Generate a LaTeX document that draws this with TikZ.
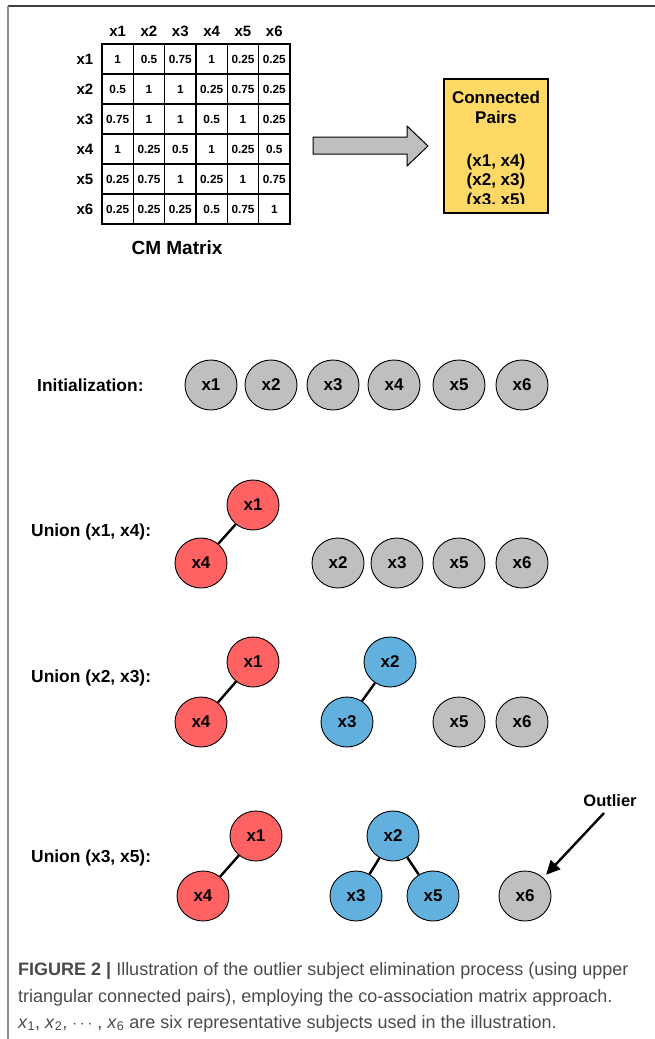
\documentclass[tikz,border=0pt]{standalone}
\usepackage{fontspec}
\setmainfont{Liberation Sans}
\usetikzlibrary{shapes.geometric,arrows.meta,calc}
\definecolor{cgray}{HTML}{BFBFBF}
\definecolor{cred}{HTML}{FF6262}
\definecolor{cblue}{HTML}{62B0DE}
\definecolor{cyel}{HTML}{FFD966}
\definecolor{captxt}{HTML}{4A4A4A}
\begin{document}
\begin{tikzpicture}[x=1pt,y=-1pt,
  cell/.style={draw,line width=1.2pt,minimum width=31.33pt,minimum height=30pt,inner sep=0pt,font=\bfseries\fontsize{11.8}{13}\selectfont},
  hdr/.style={font=\bfseries\fontsize{15}{17}\selectfont,inner sep=0pt},
  ball/.style={ellipse,draw,line width=0.9pt,minimum width=52pt,minimum height=50pt,inner sep=0pt,font=\bfseries\fontsize{17}{19}\selectfont},
  gb/.style={ball,fill=cgray},
  rb/.style={ball,fill=cred},
  bb/.style={ball,fill=cblue},
  lbl/.style={anchor=west,inner sep=0pt,font=\bfseries\fontsize{17.4}{19}\selectfont},
  link/.style={line width=2.4pt},
  cpt/.style={anchor=base,inner sep=0pt,font=\bfseries\fontsize{17}{19}\selectfont},
  capl/.style={anchor=base west,inner sep=0pt,text=captxt,font=\fontsize{18}{21}\selectfont}]
\useasboundingbox (0,0) rectangle (655,1039);
% frame
\draw[line width=1.6pt,black!75] (655,6) -- (8,6);
\draw[line width=1.6pt,black!45] (8,6) -- (8,1039);
% matrix
\foreach [count=\c] \h in {x1,x2,x3,x4,x5,x6} {
  \node[hdr] (col\c) at ({102+31.33*(\c-0.5)},31) {\h};
  \node[hdr] (row\c) at (85,{44+30*(\c-0.5)}) {\h};
}
\foreach [count=\r] \rw in {{1,0.5,0.75,1,0.25,0.25},{0.5,1,1,0.25,0.75,0.25},{0.75,1,1,0.5,1,0.25},{1,0.25,0.5,1,0.25,0.5},{0.25,0.75,1,0.25,1,0.75},{0.25,0.25,0.25,0.5,0.75,1}} {
  \foreach [count=\c] \v in \rw {
    \node[cell] (m\r\c) at ({102+31.33*(\c-0.5)},{44+30*(\r-0.5)}) {\v};
  }
}
\node[font=\bfseries\fontsize{19}{21}\selectfont,inner sep=0pt] (cmlabel) at (177,248) {CM Matrix};
% big arrow
\draw[line width=1pt,fill=cgray] (313,137) -- (407,137) -- (407,126) -- (428,146) -- (407,166) -- (407,154) -- (313,154) -- cycle;
% connected pairs box
\node[draw,line width=1.2pt,fill=cyel,minimum width=104pt,minimum height=134pt,inner sep=0pt] (cp) at (496,146) {};
\begin{scope}
\clip (444,79) rectangle (548,203.5);
\node[cpt] (cp1) at (496,103) {Connected};
\node[cpt] (cp2) at (496,123) {Pairs};
\node[cpt] (cp3) at (496,166) {(x1, x4)};
\node[cpt] (cp4) at (496,185.5) {(x2, x3)};
\node[cpt] (cp5) at (496,205) {(x3, x5)};
\end{scope}
% initialization
\node[lbl] (linit) at (37,385) {Initialization:};
\node[gb] (i1) at (211,385) {x1};
\node[gb] (i2) at (271,385) {x2};
\node[gb] (i3) at (333,385) {x3};
\node[gb] (i4) at (394,385) {x4};
\node[gb] (i5) at (459,385) {x5};
\node[gb] (i6) at (522,385) {x6};
% union 1
\node[lbl] (lu1) at (31,532) {Union (x1, x4):};
\node[rb] (a1) at (253,505) {x1};
\node[rb] (a4) at (201,563) {x4};
\node[gb] (a2) at (338,563) {x2};
\node[gb] (a3) at (397,563) {x3};
\node[gb] (a5) at (459,563) {x5};
\node[gb] (a6) at (522,563) {x6};
\draw[link] (a1) -- (a4);
% union 2
\node[lbl] (lu2) at (31,678) {Union (x2, x3):};
\node[rb] (b1) at (253,662) {x1};
\node[rb] (b4) at (201,722) {x4};
\node[bb] (b2) at (390,662) {x2};
\node[bb] (b3) at (347,722) {x3};
\node[gb] (b5) at (459,722) {x5};
\node[gb] (b6) at (522,722) {x6};
\draw[link] (b1) -- (b4);
\draw[link] (b2) -- (b3);
% union 3
\node[lbl] (lu3) at (31,858) {Union (x3, x5):};
\node[rb] (c1) at (256,836) {x1};
\node[rb] (c4) at (203,896) {x4};
\node[bb] (c2) at (393,836) {x2};
\node[bb] (c3) at (356,896) {x3};
\node[bb] (c5) at (433,896) {x5};
\node[gb] (c6) at (525,896) {x6};
\draw[link] (c1) -- (c4);
\draw[link] (c2) -- (c3);
\draw[link] (c2) -- (c5);
\node[font=\bfseries\fontsize{16.5}{18}\selectfont,inner sep=0pt] (outl) at (610,801) {Outlier};
\coordinate (ostart) at (604,813);
\draw[line width=2.4pt,-{Triangle[length=14pt,width=13pt]},shorten >=4pt] (ostart) -- (c6.45);
% caption
\node[capl] (cap1) at (18,975) {\textbf{FIGURE 2 |} Illustration of the outlier subject elimination process (using upper};
\node[capl] (cap2) at (18,1002) {triangular connected pairs), employing the co-association matrix approach.};
\node[capl] (cap3) at (18,1028) {\textit{x}\textsubscript{1}, \textit{x}\textsubscript{2}, $\cdots$ , \textit{x}\textsubscript{6} are six representative subjects used in the illustration.};
\end{tikzpicture}
\end{document}
